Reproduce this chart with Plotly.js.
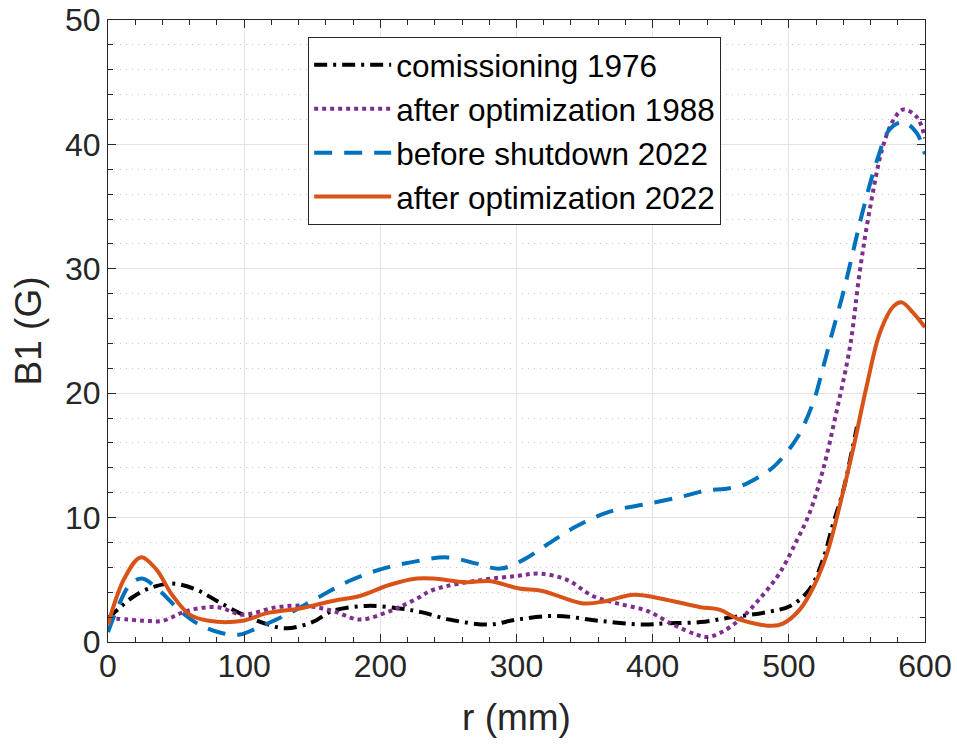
<!DOCTYPE html>
<html>
<head>
<meta charset="utf-8">
<script src="https://cdn.plot.ly/plotly-3.0.1.min.js"></script>
<style>html,body{margin:0;padding:0;background:#fff;}#chart{width:957px;height:751px;}</style>
</head>
<body>
<div id="chart"></div>
<script>
// Series names
const seriesNames = ["comissioning 1976", "after optimization 1988", "before shutdown 2022", "after optimization 2022"];

// comissioning 1976
const r1976 = [0, 8, 18, 30, 47, 65, 80, 99, 115, 131, 150, 165, 190, 214, 230, 251, 280, 300, 329, 361, 393, 410, 435, 459, 484, 501, 515, 525, 532, 540, 547, 550];
const b1976 = [1.9, 2.7, 3.6, 4.3, 4.7, 4.2, 3.3, 2.2, 1.5, 1.1, 1.6, 2.5, 2.9, 2.7, 2.4, 1.8, 1.4, 1.8, 2.1, 1.7, 1.4, 1.5, 1.6, 2.0, 2.4, 2.9, 4.2, 6.6, 9.3, 12.2, 15.7, 17.3];

// after optimization 1988
const r1988 = [0, 15, 28, 40, 58, 80, 99, 124, 146, 165, 185, 205, 214, 227, 239, 275, 300, 317, 337, 356, 374, 396, 415, 432, 440, 449, 464, 478, 493, 506, 515, 525, 535, 545, 552, 559, 569, 577, 584, 594, 600];
const b1988 = [1.9, 1.8, 1.7, 1.7, 2.5, 2.8, 2.2, 2.8, 2.9, 2.5, 1.8, 2.4, 2.8, 3.5, 4.2, 5.0, 5.3, 5.5, 5.0, 3.7, 3.1, 2.5, 1.4, 0.6, 0.4, 0.7, 1.8, 3.4, 5.5, 8.2, 10.3, 13.8, 18.5, 23.8, 29.7, 34.5, 39.8, 42.0, 42.8, 42.2, 40.5];

// before shutdown 2022
const rBefore = [0, 8, 16, 25, 38, 53, 67, 84, 97, 109, 131, 153, 177, 202, 227, 249, 271, 288, 305, 322, 344, 369, 396, 422, 440, 453, 466, 477, 489, 506, 518, 525, 532, 540, 547, 554, 565, 574, 584, 594, 600];
const bBefore = [0.8, 3.0, 4.6, 5.1, 4.1, 2.5, 1.4, 0.7, 0.6, 1.1, 2.2, 3.5, 4.9, 5.9, 6.5, 6.8, 6.3, 5.9, 6.6, 7.8, 9.3, 10.5, 11.1, 11.7, 12.2, 12.3, 12.6, 13.2, 14.1, 16.4, 19.3, 22.0, 24.9, 28.1, 31.3, 34.5, 38.8, 41.2, 41.8, 40.9, 39.2];

// after optimization 2022
const rAfter = [0, 12, 24, 35, 47, 60, 74, 99, 116, 141, 165, 185, 207, 227, 239, 263, 280, 302, 319, 349, 366, 386, 410, 435, 449, 464, 488, 496, 508, 518, 528, 537, 547, 557, 567, 577, 583, 591, 600];
const bAfter = [1.4, 5.1, 6.8, 5.9, 3.8, 2.2, 1.7, 1.7, 2.3, 2.7, 3.3, 3.7, 4.6, 5.1, 5.1, 4.8, 4.9, 4.3, 4.1, 3.1, 3.3, 3.8, 3.4, 2.8, 2.6, 1.8, 1.3, 1.5, 2.6, 4.4, 7.1, 10.8, 15.4, 20.5, 24.9, 27.0, 27.3, 26.5, 25.3];

const xTicks = [0, 100, 200, 300, 400, 500, 600];
const yTicks = [0, 10, 20, 30, 40, 50];

const axisColor = "#262626";
const font = "Liberation Sans, Arial, Helvetica, sans-serif";

function tr(x, y, name, color, dash) {
  return {
    x: x, y: y, name: name, type: "scatter", mode: "lines",
    line: {color: color, width: 4, dash: dash, shape: "spline", smoothing: 1}
  };
}

const data = [
  tr(r1976, b1976, seriesNames[0], "#000000", "13px,6px,3px,6px"),
  tr(r1988, b1988, seriesNames[1], "#7E2F8E", "4px,4px"),
  tr(rBefore, bBefore, seriesNames[2], "#0072BD", "18px,12px"),
  tr(rAfter, bAfter, seriesNames[3], "#D95319", "solid")
];

const layout = {
  width: 957, height: 751,
  margin: {l: 108, r: 32, t: 20, b: 109},
  paper_bgcolor: "#ffffff", plot_bgcolor: "#ffffff",
  font: {family: font, color: axisColor, size: 31},
  showlegend: true,
  legend: {
    x: 0.245, y: 0.973, xanchor: "left", yanchor: "top",
    bgcolor: "#ffffff", bordercolor: axisColor, borderwidth: 1,
    font: {family: font, size: 31.5, color: "#000000"},
    itemwidth: 77, tracegroupgap: 0
  },
  xaxis: {
    range: [0, 600], tickvals: xTicks, ticktext: xTicks.map(String),
    showline: true, linecolor: axisColor, linewidth: 1, mirror: "ticks",
    ticks: "inside", ticklen: 8, tickcolor: axisColor, tickwidth: 1,
    showgrid: true, gridcolor: "#e3e3e3", gridwidth: 1, zeroline: false,
    tickfont: {size: 32, color: axisColor, family: font},
    ticklabelstandoff: -4,
    minor: {dtick: 20, ticks: "inside", ticklen: 5, tickcolor: axisColor, showgrid: false},
    title: {text: "r (mm)", font: {size: 37, color: axisColor, family: font}, standoff: 20}
  },
  yaxis: {
    range: [0, 50], tickvals: yTicks, ticktext: yTicks.map(String),
    showline: true, linecolor: axisColor, linewidth: 1, mirror: "ticks",
    ticks: "inside", ticklen: 8, tickcolor: axisColor, tickwidth: 1,
    showgrid: true, gridcolor: "#e3e3e3", gridwidth: 1, zeroline: false,
    tickfont: {size: 32, color: axisColor, family: font},
    minor: {dtick: 2, ticks: "inside", ticklen: 5, tickcolor: axisColor, showgrid: true, gridcolor: "#c8c8c8", griddash: "1px,5px", gridwidth: 1},
    title: {text: "B1 (G)", font: {size: 37, color: axisColor, family: font}, standoff: 12}
  }
};

Plotly.newPlot("chart", data, layout, {displayModeBar: false, staticPlot: true});
</script>
</body>
</html>
